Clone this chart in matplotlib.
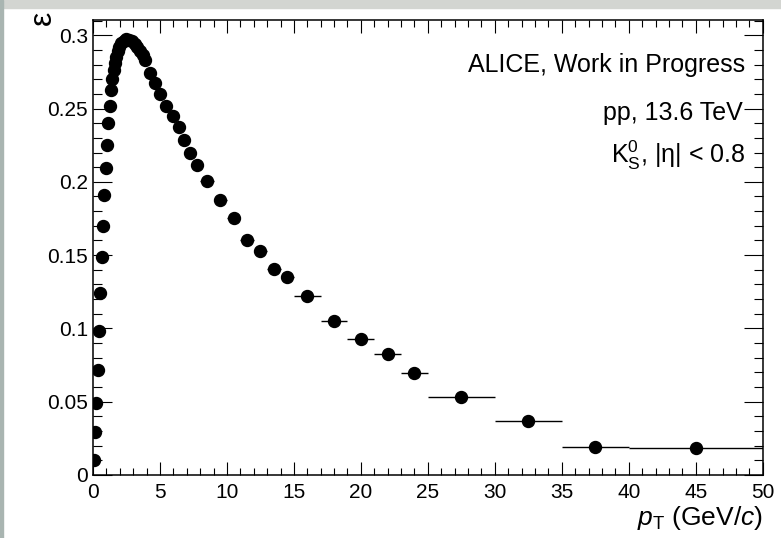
import matplotlib
matplotlib.use("Agg")
import matplotlib.pyplot as plt
import numpy as np
from matplotlib.ticker import MultipleLocator

plt.rcParams['font.family'] = ['Liberation Sans', 'DejaVu Sans']
plt.rcParams['mathtext.fontset'] = 'custom'
plt.rcParams['mathtext.rm'] = 'Liberation Sans'
plt.rcParams['mathtext.it'] = 'Liberation Sans:italic'
plt.rcParams['mathtext.bf'] = 'Liberation Sans:bold'

# pT bin edges (GeV/c)
pt_edges = [0.0, 0.1, 0.2, 0.3, 0.4, 0.5, 0.6, 0.7, 0.8, 0.9, 1.0,
            1.1, 1.2, 1.3, 1.4, 1.5, 1.6, 1.7, 1.8, 1.9, 2.0,
            2.2, 2.4, 2.6, 2.8, 3.0, 3.2, 3.4, 3.6, 3.8, 4.0,
            4.5, 4.8, 5.2, 5.7, 6.2, 6.6, 7.0, 7.5, 8.0,
            9, 10, 11, 12, 13, 14, 15,
            17, 19, 21, 23, 25,
            30, 35, 40, 50]

# efficiency per bin
efficiency = [0.0102, 0.0293, 0.0490, 0.0715, 0.0981, 0.1240, 0.1490, 0.1700, 0.1910, 0.2092,
              0.2251, 0.2399, 0.2517, 0.2626, 0.2700, 0.2763, 0.2810, 0.2852, 0.2890, 0.2918,
              0.2945, 0.2962, 0.2972, 0.2968, 0.2958, 0.2943, 0.2922, 0.2895, 0.2865, 0.2830,
              0.2744, 0.2676, 0.2597, 0.2517, 0.2449, 0.2374, 0.2282, 0.2198, 0.2115,
              0.2005, 0.1875, 0.1750, 0.1603, 0.1526, 0.1403, 0.1349,
              0.1219, 0.1051, 0.0930, 0.0825, 0.0698,
              0.0534, 0.0370, 0.0193, 0.0186]

labels = ["ALICE, Work in Progress", "pp, 13.6 TeV", r"K$^{0}_{\mathrm{S}}$, |η| < 0.8"]

edges = np.array(pt_edges)
centers = 0.5 * (edges[1:] + edges[:-1])
half_w = 0.5 * (edges[1:] - edges[:-1])

W, H = 781, 538
fig = plt.figure(figsize=(W / 100, H / 100), dpi=100)

# screenshot border bits
fig.patches.append(plt.Rectangle((0, 1 - 8 / H), 1, 8 / H, transform=fig.transFigure,
                                 color='#d3d5d1', zorder=0))
fig.patches.append(plt.Rectangle((0, 0), 3 / W, 1, transform=fig.transFigure,
                                 color='#a9b5b1', zorder=0))

ax = fig.add_axes([93 / W, 1 - 475 / H, (762.7 - 93) / W, (475 - 20) / H])

ax.errorbar(centers, efficiency, xerr=half_w, fmt='o', color='black', ms=8.6,
            elinewidth=1.0, capsize=0)

ax.set_xlim(0, 50)
ax.set_ylim(0, 0.3104)

ax.xaxis.set_major_locator(MultipleLocator(5))
ax.xaxis.set_minor_locator(MultipleLocator(1))
ax.yaxis.set_major_locator(MultipleLocator(0.05))
ax.yaxis.set_minor_locator(MultipleLocator(0.01))
ax.yaxis.set_major_formatter(plt.FuncFormatter(lambda v, p: ('%g' % round(v, 3))))

ax.tick_params(axis='both', which='both', direction='in', top=True, right=True,
               width=0.8, labelsize=15)
ax.tick_params(axis='x', which='major', length=9.4, pad=6)
ax.tick_params(axis='x', which='minor', length=5)
ax.tick_params(axis='y', which='major', length=13.7, pad=3.5)
ax.tick_params(axis='y', which='minor', length=6.8)
for s in ax.spines.values():
    s.set_linewidth(1.1)

fig.text(762.5 / W, 1 - 525 / H, r"$p_{\mathrm{T}}$ (GeV/$c$)", ha='right', va='baseline',
         fontsize=19)
fig.text(43 / W, 1 - 11 / H, "ε", rotation=90, ha='center', va='top', fontsize=23)

ys = [72, 120, 163]
xs = [745, 742.7, 745]
for t, x, y in zip(labels, xs, ys):
    fig.text(x / W, 1 - y / H, t, ha='right', va='baseline', fontsize=18)

fig.savefig("out.png", dpi=100)
